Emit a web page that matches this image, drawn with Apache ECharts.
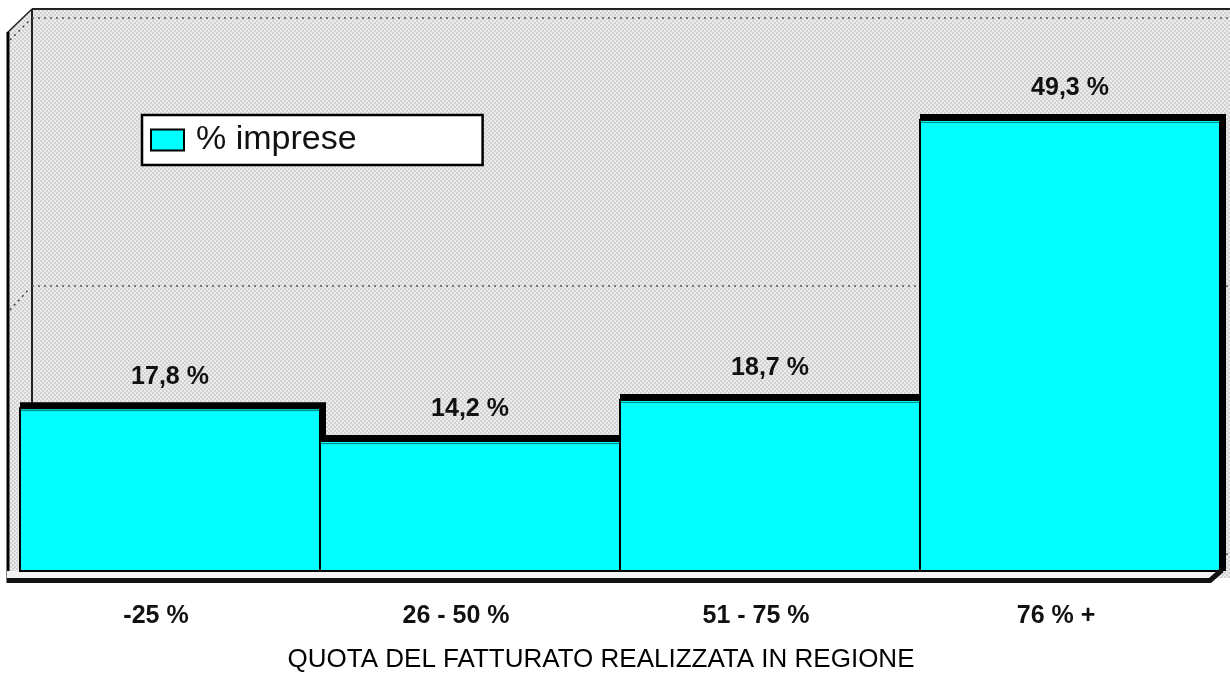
<!DOCTYPE html>
<html>
<head>
<meta charset="utf-8">
<title>Quota del fatturato realizzata in regione</title>
<script src="https://cdn.jsdelivr.net/npm/echarts@6/dist/echarts.min.js"></script>
<style>
  html, body { margin: 0; padding: 0; background: #fff; }
  #chart { width: 1230px; height: 678px; }
</style>
</head>
<body>
<div id="chart"></div>
<script>
// dati del grafico
var categories = ['-25 %', '26 - 50 %', '51 - 75 %', '76 % +'];
var impreseValues = [17.8, 14.2, 18.7, 49.3];
var seriesName = '% imprese';
var axisTitle = 'QUOTA DEL FATTURATO REALIZZATA IN REGIONE';

var sans = '"Liberation Sans", Arial, sans-serif';

// retino a scacchi grigio dello sfondo
function makeChecker() {
  var c = document.createElement('canvas');
  c.width = 4;
  c.height = 4;
  var ctx = c.getContext('2d');
  ctx.fillStyle = '#ececec';
  ctx.fillRect(0, 0, 4, 4);
  ctx.fillStyle = '#d2d2d2';
  ctx.fillRect(0, 0, 2, 2);
  ctx.fillRect(2, 2, 2, 2);
  return c;
}
var checker = { image: makeChecker(), repeat: 'repeat' };

// barra con bordo spesso in alto e a destra (effetto 3D)
function renderBar(params, api) {
  var idx = api.value(0);
  var val = api.value(1);
  var top = api.coord([idx, val]);
  var base = api.coord([idx, 0]);
  var w = api.size([1, 0])[0];
  var x = top[0] - w / 2;
  var h = base[1] - top[1];
  return {
    type: 'group',
    children: [
      {
        type: 'polyline',
        shape: { points: [[x, top[1] - 2.5], [x + w + 2.5, top[1] - 2.5], [x + w + 2.5, base[1]]] },
        style: { stroke: '#000', lineWidth: 7, fill: null, lineJoin: 'miter' }
      },
      {
        type: 'rect',
        shape: { x: x, y: top[1], width: w, height: h },
        style: { fill: '#00ffff', stroke: '#000', lineWidth: 2 }
      },
      {
        type: 'line',
        shape: { x1: x + 1, y1: top[1] + 2.5, x2: x + w - 1, y2: top[1] + 2.5 },
        style: { stroke: '#008080', lineWidth: 1 }
      },
      {
        type: 'text',
        x: top[0],
        y: top[1] - 19,
        style: {
          text: val.toFixed(1).replace('.', ',') + ' %',
          fill: '#111',
          fontFamily: sans,
          fontWeight: 'bold',
          fontSize: 25,
          align: 'center',
          verticalAlign: 'bottom'
        }
      }
    ]
  };
}

var myChart = echarts.init(document.getElementById('chart'));

var option = {
  animation: false,
  backgroundColor: '#ffffff',
  graphic: [
    // pareti e pavimento
    {
      type: 'polygon', z: -10, silent: true,
      shape: { points: [[7, 33], [32, 9], [1230, 9], [1230, 578], [7, 578]] },
      style: { fill: checker }
    },
    {
      type: 'line', z: -9, silent: true,
      shape: { x1: 32, y1: 9, x2: 1230, y2: 9 },
      style: { stroke: '#222', lineWidth: 2 }
    },
    {
      type: 'line', z: -9, silent: true,
      shape: { x1: 7, y1: 33, x2: 32, y2: 9 },
      style: { stroke: '#222', lineWidth: 1.5 }
    },
    {
      type: 'line', z: -9, silent: true,
      shape: { x1: 8, y1: 32, x2: 8, y2: 583 },
      style: { stroke: '#000', lineWidth: 3 }
    },
    {
      type: 'line', z: -9, silent: true,
      shape: { x1: 32, y1: 9, x2: 32, y2: 566 },
      style: { stroke: '#222', lineWidth: 2 }
    },
    {
      type: 'line', z: -9, silent: true,
      shape: { x1: 10, y1: 40, x2: 30, y2: 20 },
      style: { stroke: '#444', lineWidth: 1.5, lineDash: [2, 4] }
    },
    {
      type: 'line', z: -9, silent: true,
      shape: { x1: 10, y1: 310, x2: 30, y2: 288 },
      style: { stroke: '#444', lineWidth: 1.5, lineDash: [2, 4] }
    },
    {
      type: 'polygon', z: -8, silent: true,
      shape: { points: [[7, 571], [1224, 571], [1224, 573], [1213, 578], [7, 578]] },
      style: { fill: '#f2f2f2' }
    },
    {
      type: 'polyline', z: 5, silent: true,
      shape: { points: [[7, 580.5], [1210, 580.5], [1222, 570]] },
      style: { stroke: '#111', lineWidth: 5, fill: null }
    }
  ],
  legend: {
    data: [seriesName],
    left: 142,
    top: 115,
    orient: 'horizontal',
    padding: [8, 126, 8, 8],
    backgroundColor: '#ffffff',
    borderColor: '#000000',
    borderWidth: 2.5,
    icon: 'rect',
    itemWidth: 33,
    itemHeight: 21,
    itemStyle: { color: '#00ffff', borderColor: '#000', borderWidth: 2 },
    textStyle: {
      fontFamily: sans,
      fontSize: 34,
      lineHeight: 34,
      color: '#111',
      padding: [0, 0, 0, 7]
    }
  },
  grid: [
    { left: 20, right: 10, top: 22, bottom: 107 },
    { left: 32, right: 0, top: 18, bottom: 124 }
  ],
  xAxis: [
    {
      type: 'category',
      gridIndex: 0,
      data: categories,
      axisLine: { show: false },
      axisTick: { show: false },
      axisLabel: {
        margin: 33,
        fontFamily: sans,
        fontWeight: 'bold',
        fontSize: 25,
        color: '#111',
        padding: [0, 28, 0, 0]
      },
      name: axisTitle,
      nameLocation: 'middle',
      nameGap: 76,
      nameTextStyle: {
        fontFamily: sans,
        fontSize: 26,
        color: '#000',
        padding: [0, 38, 0, 0]
      }
    },
    {
      type: 'category',
      gridIndex: 1,
      data: categories,
      show: false
    }
  ],
  yAxis: [
    {
      type: 'value',
      gridIndex: 0,
      min: 0,
      max: 60,
      interval: 30,
      show: false,
      splitLine: { show: false }
    },
    {
      type: 'value',
      gridIndex: 1,
      min: 0,
      max: 60,
      interval: 30,
      axisLine: { show: false },
      axisTick: { show: false },
      axisLabel: { show: false },
      splitLine: {
        show: true,
        lineStyle: { color: '#555', width: 1.5, type: [2, 4] }
      }
    }
  ],
  series: [
    {
      name: seriesName,
      type: 'custom',
      xAxisIndex: 0,
      yAxisIndex: 0,
      renderItem: renderBar,
      itemStyle: { color: '#00ffff' },
      encode: { x: 0, y: 1 },
      data: impreseValues.map(function (v, i) { return [i, v]; })
    }
  ]
};

myChart.setOption(option);
</script>
</body>
</html>
